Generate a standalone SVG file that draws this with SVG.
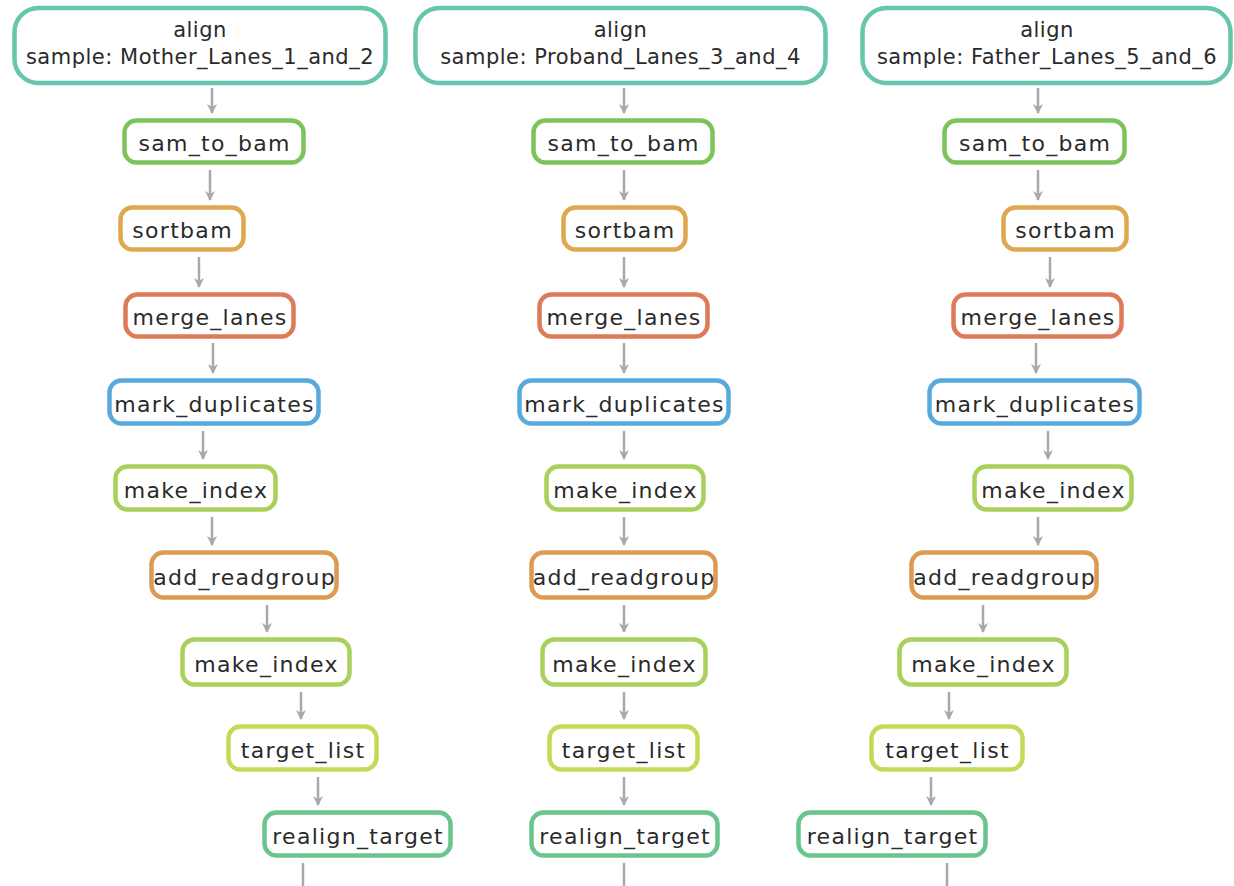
<svg xmlns="http://www.w3.org/2000/svg" width="1234" height="886" viewBox="0 0 1234 886">
<defs>
<marker id="ah" viewBox="0 0 10 10" refX="9" refY="5" markerWidth="10" markerHeight="10" markerUnits="userSpaceOnUse" orient="auto">
<path d="M0,0 L10,5 L0,10 L3,5 Z" fill="#a8a8ad"/>
</marker>
<style>
.n rect{fill:#fff;stroke-width:4.5}
.n text{font-family:"DejaVu Sans",sans-serif;font-size:22px;letter-spacing:1.3px;fill:#2a2a2a;text-anchor:middle}
.al rect{stroke:#66c5ac}
.al text{font-size:21px;letter-spacing:0.5px}
.sb rect{stroke:#7dc35c}
.so rect{stroke:#dfa84f}
.ml rect{stroke:#dd7b59}
.md rect{stroke:#5aa9dd}
.mi rect{stroke:#a8d05a}
.ar rect{stroke:#dd9a52}
.tl rect{stroke:#c3da57}
.rt rect{stroke:#69c48e}
.e path{fill:none;stroke:#a8a8ad;stroke-width:2.5;marker-end:url(#ah)}
</style>
</defs>
<rect width="1234" height="886" fill="#fff"/>
<g class="e" id="connectors">
<path d="M212,88 V113"/><path d="M210,170 V200"/><path d="M199,257 V287"/><path d="M213,343 V373"/><path d="M203,431 V459"/><path d="M212,517 V545"/><path d="M267,605 V632"/><path d="M301,692 V719"/><path d="M318,777 V805"/><path d="M303,863 V896"/>
<path d="M624,88 V113"/><path d="M624,170 V200"/><path d="M624,257 V287"/><path d="M624,343 V373"/><path d="M624,431 V459"/><path d="M624,517 V545"/><path d="M624,605 V632"/><path d="M624,692 V719"/><path d="M624,777 V805"/><path d="M624,863 V896"/>
<path d="M1038,88 V113"/><path d="M1038,170 V200"/><path d="M1050,257 V287"/><path d="M1036,343 V373"/><path d="M1048,431 V459"/><path d="M1038,517 V545"/><path d="M983,605 V632"/><path d="M949,692 V719"/><path d="M931,777 V805"/><path d="M947,863 V896"/>
</g>
<!-- column 1 -->
<g id="align_mother" class="n al"><rect x="14.5" y="8" width="371" height="75" rx="24"/><text x="200" y="37">align</text><text x="200" y="64">sample: Mother_Lanes_1_and_2</text></g>
<g id="sam_to_bam_1" class="n sb"><rect x="124.5" y="120.5" width="179" height="42" rx="12"/><text x="214.6" y="151">sam_to_bam</text></g>
<g id="sortbam_1" class="n so"><rect x="120.5" y="207.5" width="123" height="42" rx="12"/><text x="182.6" y="238">sortbam</text></g>
<g id="merge_lanes_1" class="n ml"><rect x="125.5" y="294.5" width="168" height="42" rx="12"/><text x="210.1" y="325">merge_lanes</text></g>
<g id="mark_duplicates_1" class="n md"><rect x="109.5" y="380.5" width="209" height="43" rx="12"/><text x="214.6" y="412">mark_duplicates</text></g>
<g id="make_index_1a" class="n mi"><rect x="115.5" y="466.5" width="160" height="43" rx="12"/><text x="196.1" y="498">make_index</text></g>
<g id="add_readgroup_1" class="n ar"><rect x="151.5" y="552.5" width="185" height="45" rx="12"/><text x="244.6" y="585">add_readgroup</text></g>
<g id="make_index_1b" class="n mi"><rect x="182.5" y="639.5" width="167" height="45" rx="12"/><text x="266.6" y="672">make_index</text></g>
<g id="target_list_1" class="n tl"><rect x="228.5" y="726.5" width="148" height="43" rx="12"/><text x="303.1" y="758">target_list</text></g>
<g id="realign_target_1" class="n rt"><rect x="264.5" y="812.5" width="186" height="43" rx="12"/><text x="358.1" y="844">realign_target</text></g>
<!-- column 2 -->
<g id="align_proband" class="n al"><rect x="415.5" y="8" width="410" height="75" rx="24"/><text x="620.5" y="37">align</text><text x="620.5" y="64">sample: Proband_Lanes_3_and_4</text></g>
<g id="sam_to_bam_2" class="n sb"><rect x="533.5" y="120.5" width="179" height="42" rx="12"/><text x="623.6" y="151">sam_to_bam</text></g>
<g id="sortbam_2" class="n so"><rect x="563.5" y="207.5" width="122" height="42" rx="12"/><text x="625.1" y="238">sortbam</text></g>
<g id="merge_lanes_2" class="n ml"><rect x="539.5" y="294.5" width="168" height="42" rx="12"/><text x="624.1" y="325">merge_lanes</text></g>
<g id="mark_duplicates_2" class="n md"><rect x="519.5" y="380.5" width="209" height="43" rx="12"/><text x="624.6" y="412">mark_duplicates</text></g>
<g id="make_index_2a" class="n mi"><rect x="546.5" y="466.5" width="157" height="43" rx="12"/><text x="625.6" y="498">make_index</text></g>
<g id="add_readgroup_2" class="n ar"><rect x="531.5" y="552.5" width="184" height="45" rx="12"/><text x="624.1" y="585">add_readgroup</text></g>
<g id="make_index_2b" class="n mi"><rect x="542.5" y="639.5" width="163" height="45" rx="12"/><text x="624.6" y="672">make_index</text></g>
<g id="target_list_2" class="n tl"><rect x="549.5" y="726.5" width="148" height="43" rx="12"/><text x="624.1" y="758">target_list</text></g>
<g id="realign_target_2" class="n rt"><rect x="531.5" y="812.5" width="186" height="43" rx="12"/><text x="625.1" y="844">realign_target</text></g>
<!-- column 3 -->
<g id="align_father" class="n al"><rect x="862.5" y="8" width="368" height="75" rx="24"/><text x="1047" y="37">align</text><text x="1047" y="64">sample: Father_Lanes_5_and_6</text></g>
<g id="sam_to_bam_3" class="n sb"><rect x="944.5" y="120.5" width="180" height="42" rx="12"/><text x="1035.1" y="151">sam_to_bam</text></g>
<g id="sortbam_3" class="n so"><rect x="1003.5" y="207.5" width="123" height="42" rx="12"/><text x="1065.6" y="238">sortbam</text></g>
<g id="merge_lanes_3" class="n ml"><rect x="953.5" y="294.5" width="168" height="42" rx="12"/><text x="1038.1" y="325">merge_lanes</text></g>
<g id="mark_duplicates_3" class="n md"><rect x="929.5" y="380.5" width="210" height="43" rx="12"/><text x="1035.1" y="412">mark_duplicates</text></g>
<g id="make_index_3a" class="n mi"><rect x="974.5" y="466.5" width="157" height="43" rx="12"/><text x="1053.6" y="498">make_index</text></g>
<g id="add_readgroup_3" class="n ar"><rect x="911.5" y="552.5" width="185" height="45" rx="12"/><text x="1004.6" y="585">add_readgroup</text></g>
<g id="make_index_3b" class="n mi"><rect x="899.5" y="639.5" width="167" height="45" rx="12"/><text x="983.6" y="672">make_index</text></g>
<g id="target_list_3" class="n tl"><rect x="871.5" y="726.5" width="151" height="43" rx="12"/><text x="947.6" y="758">target_list</text></g>
<g id="realign_target_3" class="n rt"><rect x="798.5" y="812.5" width="187" height="43" rx="12"/><text x="892.6" y="844">realign_target</text></g>
</svg>
